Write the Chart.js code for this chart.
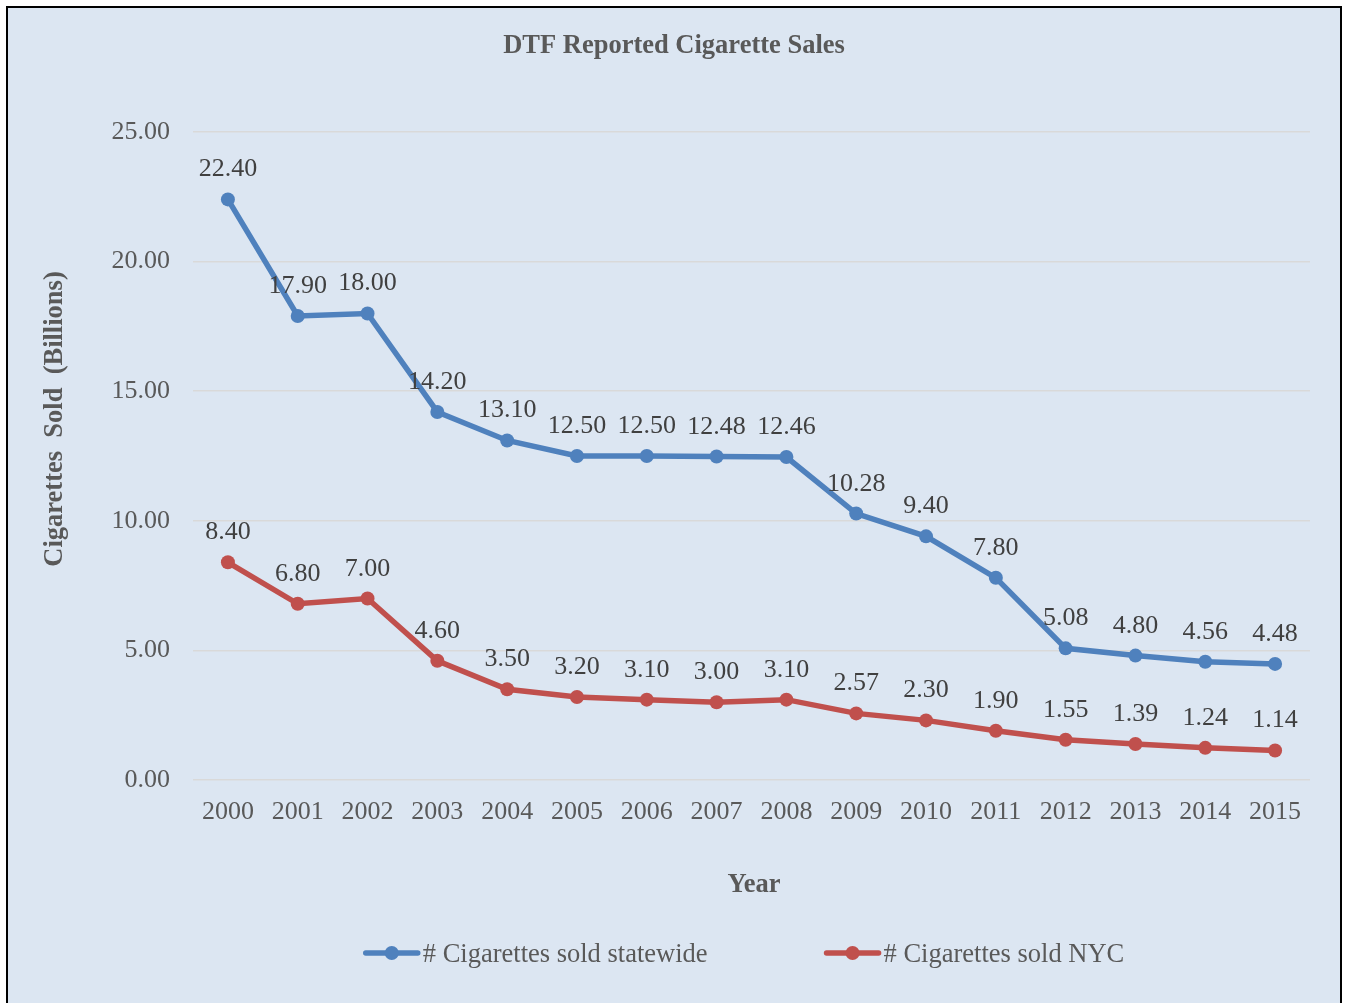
<!DOCTYPE html>
<html>
<head>
<meta charset="utf-8">
<script src="https://cdn.jsdelivr.net/npm/chart.js@4.4.0/dist/chart.umd.min.js"></script>
<style>
html,body{margin:0;padding:0;background:#ffffff;overflow:hidden}
#wrap{width:1345px;height:1003px;position:relative}
canvas{display:block}
</style>
</head>
<body>
<div id="wrap"><canvas id="c" width="1345" height="1003"></canvas></div>
<script>
// ---- data ----
const years = ['2000','2001','2002','2003','2004','2005','2006','2007','2008','2009','2010','2011','2012','2013','2014','2015'];
const statewide = [22.40,17.90,18.00,14.20,13.10,12.50,12.50,12.48,12.46,10.28,9.40,7.80,5.08,4.80,4.56,4.48];
const nyc = [8.40,6.80,7.00,4.60,3.50,3.20,3.10,3.00,3.10,2.57,2.30,1.90,1.55,1.39,1.24,1.14];
const seriesNames = ['# Cigarettes sold statewide','# Cigarettes sold NYC'];
const chartTitle = 'DTF Reported Cigarette Sales';
const xTitle = 'Year';
const yTitle = 'Cigarettes  Sold  (Billions)';
const yMin = 0, yMax = 25, yStep = 5;

const SERIF = '"Liberation Serif","Times New Roman",serif';
const BLUE = '#4f81bd', RED = '#c0504d';
const TXT = '#595959', LBL = '#404040';

const framePlugin = {
  id: 'frame',
  beforeDraw(chart) {
    const ctx = chart.ctx;
    ctx.save();
    ctx.fillStyle = '#ffffff';
    ctx.fillRect(0, 0, chart.width, chart.height);
    ctx.fillStyle = '#dce6f2';
    ctx.fillRect(7, 7, 1334, 1010);
    ctx.strokeStyle = '#000000';
    ctx.lineWidth = 2;
    ctx.strokeRect(7, 7, 1334, 1010);
    ctx.restore();
  },
  afterDraw(chart) {
    const ctx = chart.ctx;
    ctx.save();
    // title
    ctx.fillStyle = TXT;
    ctx.textAlign = 'center';
    ctx.textBaseline = 'alphabetic';
    ctx.font = 'bold 26.5px ' + SERIF;
    ctx.fillText(chartTitle, 674, 53);
    // x title
    ctx.fillText(xTitle, 754, 892);
    // y title
    ctx.save();
    ctx.translate(62, 419);
    ctx.rotate(-Math.PI / 2);
    ctx.fillText(yTitle, 0, 0);
    ctx.restore();
    // legend
    ctx.font = '26.5px ' + SERIF;
    const lineLen = 56, gapText = 3, gapItems = 117;
    const items = chart.data.datasets.map(ds => ({
      label: ds.label, color: ds.borderColor,
      w: lineLen + gapText + ctx.measureText(ds.label).width
    }));
    const total = items.reduce((s, it) => s + it.w, 0) + gapItems * (items.length - 1);
    let x = 744 - total / 2;
    const ly = 953;
    items.forEach(it => {
      ctx.strokeStyle = it.color;
      ctx.lineWidth = 5.5;
      ctx.lineCap = 'round';
      ctx.beginPath();
      ctx.moveTo(x + 2, ly);
      ctx.lineTo(x + lineLen - 2, ly);
      ctx.stroke();
      ctx.fillStyle = it.color;
      ctx.beginPath();
      ctx.arc(x + lineLen / 2, ly, 7, 0, Math.PI * 2);
      ctx.fill();
      ctx.fillStyle = TXT;
      ctx.textAlign = 'left';
      ctx.fillText(it.label, x + lineLen + gapText, 962);
      x += it.w + gapItems;
    });
    ctx.restore();
  },
  afterDatasetsDraw(chart) {
    const ctx = chart.ctx;
    ctx.save();
    ctx.font = '26px ' + SERIF;
    ctx.fillStyle = LBL;
    ctx.textAlign = 'center';
    ctx.textBaseline = 'alphabetic';
    chart.data.datasets.forEach((ds, di) => {
      const meta = chart.getDatasetMeta(di);
      meta.data.forEach((pt, i) => {
        ctx.fillText(ds.data[i].toFixed(2), pt.x, pt.y - 23);
      });
    });
    ctx.restore();
  }
};

new Chart(document.getElementById('c'), {
  type: 'line',
  data: {
    labels: years,
    datasets: [
      { label: seriesNames[0], data: statewide, borderColor: BLUE, backgroundColor: BLUE,
        borderWidth: 5.5, pointRadius: 7, pointHoverRadius: 7, pointBackgroundColor: BLUE, pointBorderWidth: 0, tension: 0 },
      { label: seriesNames[1], data: nyc, borderColor: RED, backgroundColor: RED,
        borderWidth: 5.5, pointRadius: 7, pointHoverRadius: 7, pointBackgroundColor: RED, pointBorderWidth: 0, tension: 0 }
    ]
  },
  options: {
    responsive: false,
    animation: false,
    devicePixelRatio: 1,
    events: [],
    layout: { padding: { top: 132, left: 0, right: 35, bottom: 173 } },
    plugins: {
      legend: { display: false },
      title: { display: false },
      tooltip: { enabled: false }
    },
    scales: {
      x: {
        offset: true,
        grid: { display: false, drawTicks: false },
        border: { display: false },
        ticks: { color: TXT, font: { family: SERIF, size: 26 }, padding: 17, maxRotation: 0, autoSkip: false },
        afterFit(s) { s.height = 50; }
      },
      y: {
        min: yMin, max: yMax,
        grid: { color: '#d9d9d9', lineWidth: 1.5, drawTicks: false },
        border: { display: false },
        ticks: { stepSize: yStep, color: TXT, font: { family: SERIF, size: 26 }, padding: 23,
                 callback: v => Number(v).toFixed(2) },
        afterFit(s) { s.width = 193; }
      }
    }
  },
  plugins: [framePlugin]
});
</script>
</body>
</html>
